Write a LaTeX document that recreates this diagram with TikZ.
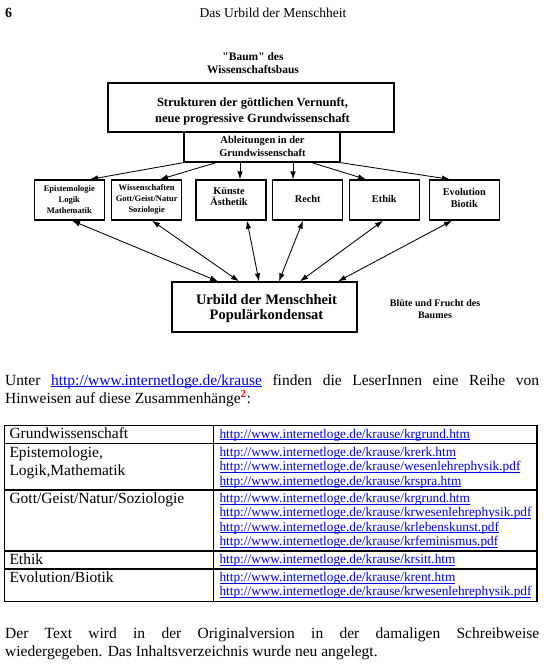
\documentclass[tikz,border=0pt]{standalone}
\usepackage{fontspec}
\setmainfont{Liberation Serif}[Ligatures=TeXOff]
\usetikzlibrary{arrows.meta}
\definecolor{linkblue}{RGB}{0,0,238}
\newcommand\lnk[1]{\leavevmode{\setbox0\hbox{#1}\rlap{\rule[-1.9pt]{\wd0}{0.65pt}}\box0}}
\begin{document}
\begin{tikzpicture}[x=1pt,y=-1pt,
  box/.style={draw, line width=1.3pt, inner sep=0pt},
  lbl/.style={inner sep=0pt, align=center},
  arr/.style={line width=0.85pt, -{Latex[length=8pt,width=5.5pt]}},
  darr/.style={line width=0.85pt, {Latex[length=8pt,width=5.5pt]}-{Latex[length=8pt,width=5.5pt]}},
  tab/.style={line width=1.1pt},
  cell/.style={inner sep=0pt, anchor=base west, text width=200pt, align=left, font=\fontsize{15.5}{18}\selectfont},
  url/.style={inner sep=0pt, anchor=base west, text width=320pt, align=left, text=linkblue, font=\fontsize{13.3}{14.3}\selectfont},
  para/.style={inner sep=0pt, anchor=base west, text width=534pt, align=justify, font=\fontsize{15.5}{18}\selectfont}
]
\useasboundingbox (0,0) rectangle (544,667);

% header
\node[inner sep=0pt, anchor=base west, font=\bfseries\fontsize{14}{16}\selectfont] (pg) at (5,17.5) {6};
\node[inner sep=0pt, anchor=base, font=\fontsize{13.5}{16}\selectfont] (title) at (273,17.5) {Das Urbild der Menschheit};

% diagram title
\node[lbl, font=\bfseries\fontsize{11.5}{12.6}\selectfont] (baum) at (253,63) {"Baum" des\\Wissenschaftsbaus};

% boxes
\node[box, minimum width=286pt, minimum height=49pt] (top) at (251,107.5) {};
\node[lbl, font=\bfseries\fontsize{12.5}{16}\selectfont] (toptxt) at (252.5,111) {Strukturen der göttlichen Vernunft,\\neue progressive Grundwissenschaft};

\node[box, minimum width=156pt, minimum height=30pt] (abl) at (262,147) {};
\node[lbl, font=\bfseries\fontsize{10.5}{13.4}\selectfont] (abltxt) at (262.5,146.5) {Ableitungen in der\\Grundwissenschaft};

\node[box, minimum width=70pt, minimum height=40pt] (b1) at (69.3,200) {};
\node[box, minimum width=70pt, minimum height=40pt] (b2) at (146.7,200) {};
\node[box, minimum width=70pt, minimum height=40pt] (b3) at (231,200) {};
\node[box, minimum width=70pt, minimum height=40pt] (b4) at (307.7,200) {};
\node[box, minimum width=70pt, minimum height=40pt] (b5) at (384.3,200) {};
\node[box, minimum width=70pt, minimum height=40pt] (b6) at (464.3,200) {};

\node[lbl, font=\bfseries\fontsize{8.5}{10.8}\selectfont] (t1) at (69.3,199.5) {Epistemologie\\Logik\\Mathematik};
\node[lbl, font=\bfseries\fontsize{8.5}{10.8}\selectfont] (t2) at (146.7,199.5) {Wissenschaften\\Gott/Geist/Natur\\Soziologie};
\node[lbl, font=\bfseries\fontsize{10.3}{11.7}\selectfont] (t3) at (229,196.5) {Künste\\Ästhetik};
\node[lbl, font=\bfseries\fontsize{10.3}{12}\selectfont] (t4) at (307.7,198.5) {Recht};
\node[lbl, font=\bfseries\fontsize{10.3}{12}\selectfont] (t5) at (384.3,198.5) {Ethik};
\node[lbl, font=\bfseries\fontsize{10.3}{12.3}\selectfont] (t6) at (464.3,198) {Evolution\\Biotik};

\node[box, minimum width=185pt, minimum height=50pt] (urb) at (264.5,307) {};
\node[lbl, font=\bfseries\fontsize{14.5}{15.5}\selectfont] (urbtxt) at (266.5,308.5) {Urbild der Menschheit\\Populärkondensat};

\node[lbl, font=\bfseries\fontsize{10}{12.5}\selectfont] (bluete) at (435,309) {Blüte und Frucht des\\Baumes};

% arrows from Ableitungen
\draw[arr] (abl.south west) -- ([xshift=20.7pt]b1.north);
\draw[arr] ([xshift=-46pt]abl.south) -- ([xshift=13.3pt]b2.north);
\draw[arr] ([xshift=-22pt]abl.south) -- ([xshift=9pt]b3.north);
\draw[arr] ([xshift=31pt]abl.south) -- ([xshift=-14.7pt]b4.north);
\draw[arr] ([xshift=50pt]abl.south) -- ([xshift=-18.3pt]b5.north);
\draw[arr] (abl.south east) -- ([xshift=-14.3pt]b6.north);

% double arrows to Urbild
\draw[darr] ([xshift=2.7pt]b1.south) -- ([xshift=-46.5pt]urb.north);
\draw[darr] ([xshift=5.3pt]b2.south) -- ([xshift=-25.5pt]urb.north);
\draw[darr] ([xshift=16pt]b3.south) -- ([xshift=-5.5pt]urb.north);
\draw[darr] ([xshift=-4.7pt]b4.south) -- ([xshift=14.5pt]urb.north);
\draw[darr] ([xshift=-1.3pt]b5.south) -- ([xshift=35.5pt]urb.north);
\draw[darr] ([xshift=-12.3pt]b6.south) -- ([xshift=73.5pt]urb.north);

% paragraph
\node[para] (p1) at (5,385) {\hyphenpenalty=10000 Unter \textcolor{linkblue}{\lnk{http://www.internetloge.de/krause}} finden die LeserInnen eine Reihe von\linebreak Hinweisen auf diese Zusammenhänge\textsuperscript{\textcolor{red}{\textbf{2}}}:};

% table
\draw[tab] (4.5,425.5) rectangle (537,601.5);
\draw[tab] (213.5,425.5) -- (213.5,601.5);
\draw[tab] (4.5,443.5) -- (537,443.5);
\draw[tab] (4.5,490) -- (537,490);
\draw[tab] (4.5,551) -- (537,551);
\draw[tab] (4.5,569) -- (537,569);

\node[cell] (c1) at (9.3,438.5) {Grundwissenschaft};
\node[cell] (c2) at (9.3,457) {Epistemologie,\\Logik,Mathematik};
\node[cell] (c3) at (9.3,503) {Gott/Geist/Natur/Soziologie};
\node[cell] (c4) at (9.3,564) {Ethik};
\node[cell] (c5) at (9.3,582) {Evolution/Biotik};

\node[url] (u1) at (219.3,438) {\lnk{http://www.internetloge.de/krause/krgrund.htm}};
\node[url] (u2) at (219.3,456.5) {\lnk{http://www.internetloge.de/krause/krerk.htm}\\\lnk{http://www.internetloge.de/krause/wesenlehrephysik.pdf}\\\lnk{http://www.internetloge.de/krause/krspra.htm}};
\node[url] (u3) at (219.3,502.5) {\lnk{http://www.internetloge.de/krause/krgrund.htm}\\\lnk{http://www.internetloge.de/krause/krwesenlehrephysik.pdf}\\\lnk{http://www.internetloge.de/krause/krlebenskunst.pdf}\\\lnk{http://www.internetloge.de/krause/krfeminismus.pdf}};
\node[url] (u4) at (219.3,563.5) {\lnk{http://www.internetloge.de/krause/krsitt.htm}};
\node[url] (u5) at (219.3,581.5) {\lnk{http://www.internetloge.de/krause/krent.htm}\\\lnk{http://www.internetloge.de/krause/krwesenlehrephysik.pdf}};

\node[para] (p2) at (5,638) {\hyphenpenalty=10000 Der Text wird in der Originalversion in der damaligen Schreibweise\linebreak wiedergegeben. Das Inhaltsverzeichnis wurde neu angelegt.};
\end{tikzpicture}
\end{document}
